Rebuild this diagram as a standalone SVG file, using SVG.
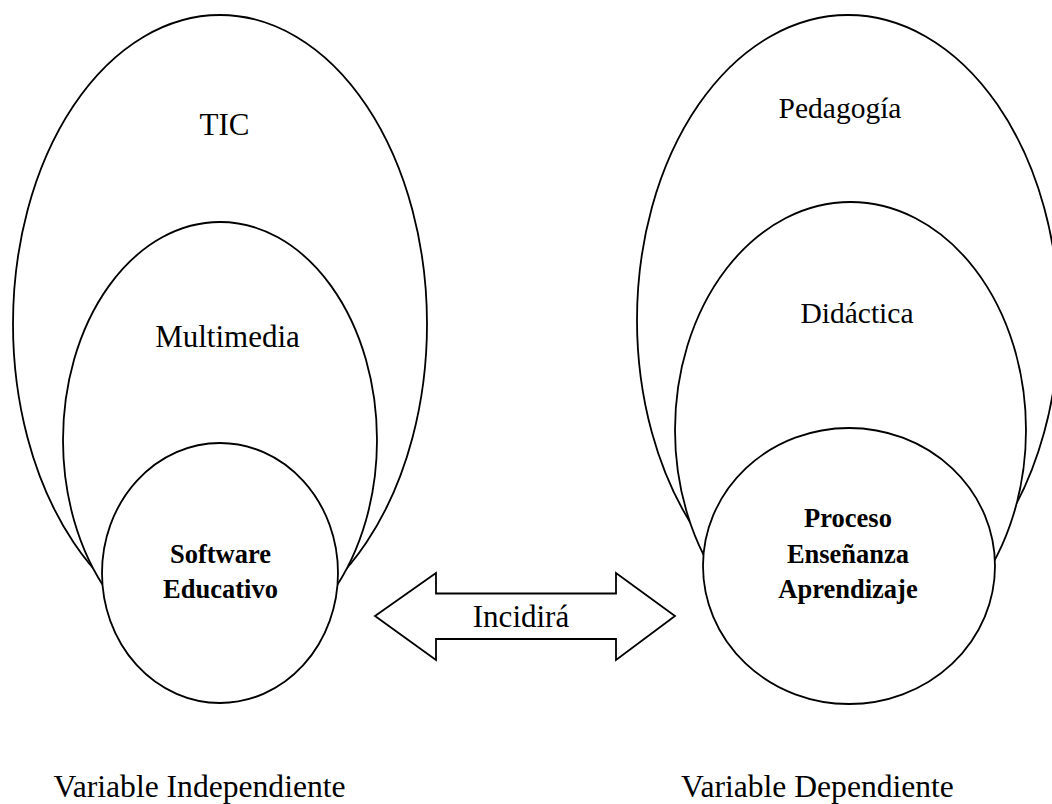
<svg xmlns="http://www.w3.org/2000/svg" width="1052" height="804" viewBox="0 0 1052 804">
  <style>
    .shape { fill: #ffffff; stroke: #000000; stroke-width: 1.8; }
    .label { font-family: "Liberation Serif", "Times New Roman", serif; fill: #000000; text-anchor: middle; }
    .reg { font-size: 31px; }
    .reg-r { font-size: 29.5px; }
    .cap { font-size: 31.6px; }
    .bold { font-size: 26.5px; font-weight: bold; }
  </style>
  <rect x="0" y="0" width="1052" height="804" fill="#ffffff"/>

  <!-- Independent variable: nested sets -->
  <g id="tic">
    <ellipse class="shape" cx="220" cy="324" rx="207" ry="309"/>
    <text class="label reg" x="224.5" y="135">TIC</text>
  </g>
  <g id="multimedia">
    <ellipse class="shape" cx="220" cy="440" rx="157" ry="218"/>
    <text class="label reg" x="227.5" y="347">Multimedia</text>
  </g>
  <g id="software-educativo">
    <ellipse class="shape" cx="220" cy="573" rx="118" ry="130"/>
    <text class="label bold" x="220.5" y="563.3">Software</text>
    <text class="label bold" x="220.5" y="598.3">Educativo</text>
  </g>

  <!-- Dependent variable: nested sets -->
  <g id="pedagogia">
    <ellipse class="shape" cx="848" cy="320" rx="211" ry="305"/>
    <text class="label reg-r" x="840" y="118">Pedagogía</text>
  </g>
  <g id="didactica">
    <ellipse class="shape" cx="850.5" cy="430" rx="175.5" ry="228"/>
    <text class="label reg-r" x="857" y="322.7">Didáctica</text>
  </g>
  <g id="proceso-ensenanza-aprendizaje">
    <ellipse class="shape" cx="849" cy="566" rx="146" ry="138"/>
    <text class="label bold" x="848" y="526.7">Proceso</text>
    <text class="label bold" x="848" y="563.3">Enseñanza</text>
    <text class="label bold" x="848" y="598.3">Aprendizaje</text>
  </g>

  <!-- Connector: double-headed block arrow -->
  <g id="connectors">
    <polygon class="shape" points="375,616 436,573 436,593.5 616,593.5 616,573 675,616 616,660 616,639 436,639 436,660"/>
    <text class="label reg" x="521" y="626.7">Incidirá</text>
  </g>

  <!-- Captions -->
  <g id="caption-independiente">
    <text class="label cap" x="199.5" y="796.5">Variable Independiente</text>
  </g>
  <g id="caption-dependiente">
    <text class="label cap" x="817.5" y="796.5">Variable Dependiente</text>
  </g>
</svg>
